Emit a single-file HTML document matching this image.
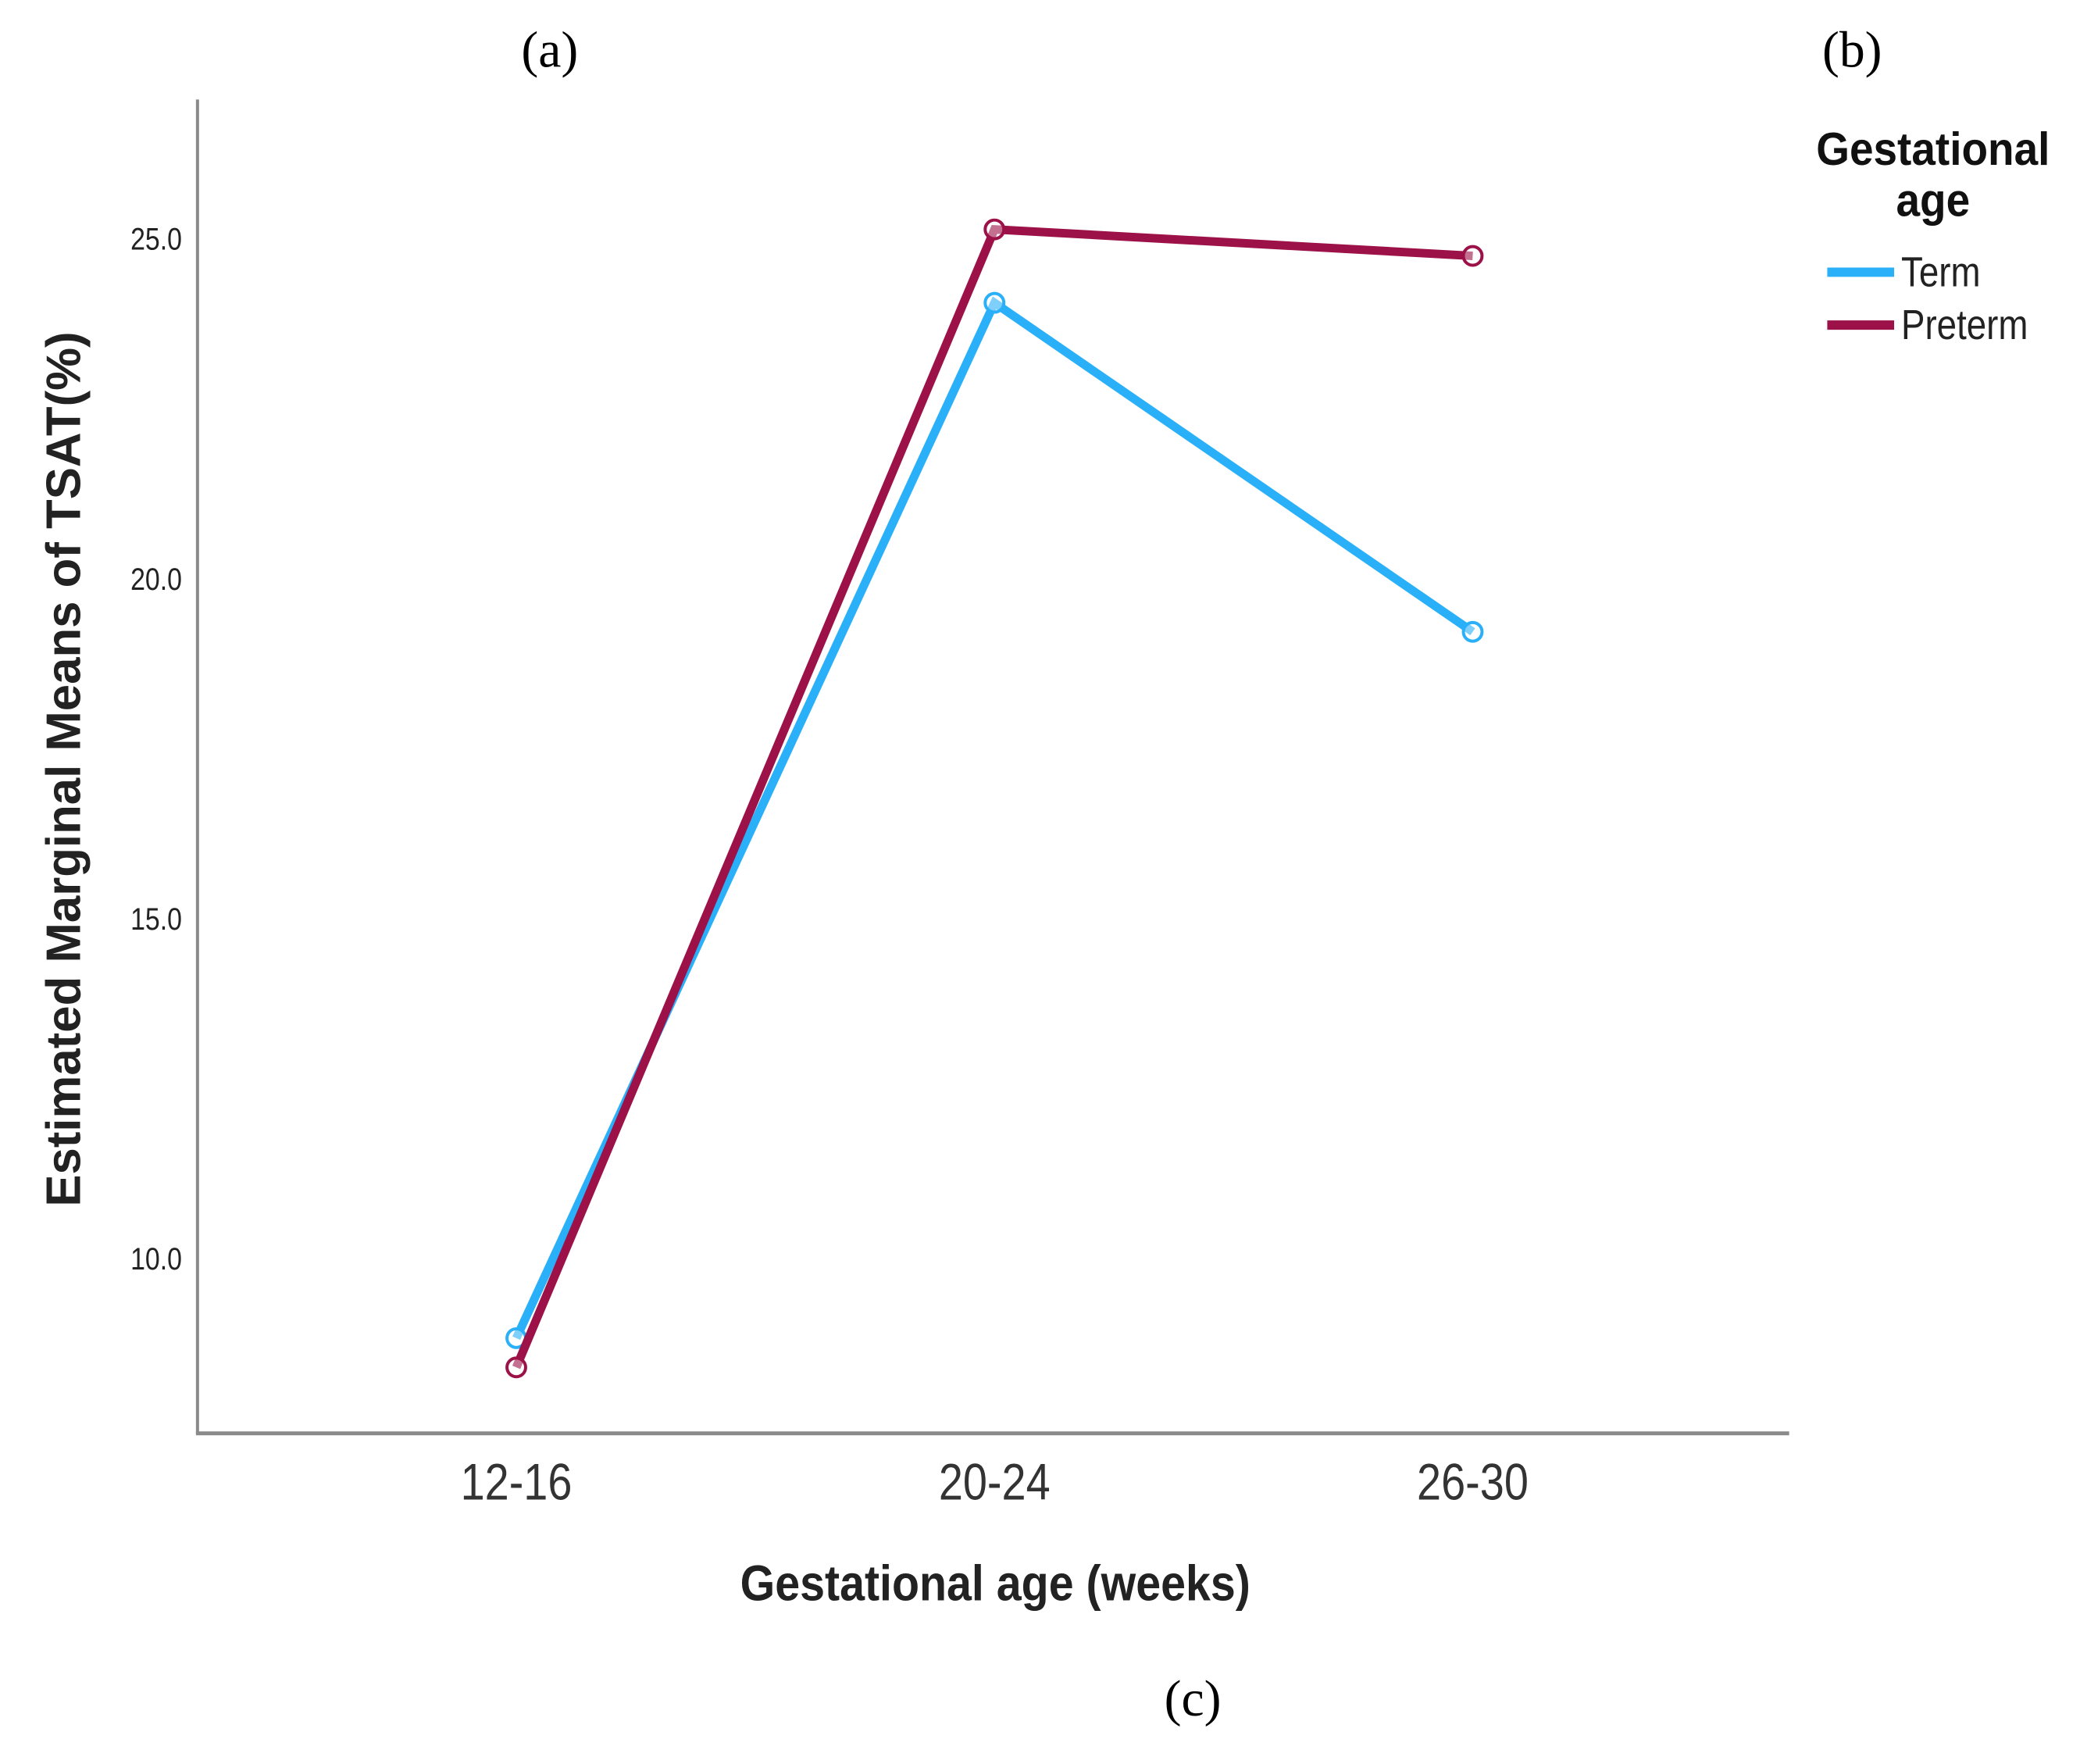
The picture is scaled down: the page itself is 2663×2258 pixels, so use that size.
<!DOCTYPE html>
<html><head><meta charset="utf-8"><style>
body{margin:0;background:#fff}
svg{display:block}
</style></head><body>
<svg width="2663" height="2258" viewBox="0 0 2663 2258" xmlns="http://www.w3.org/2000/svg">
<g id="plot" transform="scale(0.9955)"></g>
</svg>
<script>
const categories = ["12-16","20-24","26-30"];
const termValues = [8.83, 24.06, 19.22];
const pretermValues = [8.4, 25.14, 24.75];
const yTicks = [10, 15, 20, 25];
const yTickLabels = ["10.0","15.0","20.0","25.0"];

const NS = "http://www.w3.org/2000/svg";
const g = document.getElementById("plot");
const X0 = 254, X1 = 2301, YTOP = 128, YBOT = 1843;
const yMin = 7.43, yMax = 27.05;
const catX = [664, 1279, 1894];
function xScale(i){ return catX[0] + i * (catX[2]-catX[0])/(categories.length-1); }
function yScale(v){ return YBOT - (v - yMin) / (yMax - yMin) * (YBOT - YTOP); }
function el(tag, attrs, parent){ const e=document.createElementNS(NS,tag); for(const k in attrs) e.setAttribute(k,attrs[k]); (parent||g).appendChild(e); return e; }
function txt(s, attrs, parent){ const e=el("text",attrs,parent); e.textContent=s; return e; }

const ya = el("line",{x1:X0,y1:YTOP,x2:X0,y2:YBOT,stroke:"#8a8a8a","stroke-width":4});


const xa = el("line",{x1:X0-2,y1:YBOT,x2:X1,y2:YBOT,stroke:"#8a8a8a","stroke-width":5});



yTicks.forEach((v,i)=>{
  const t = txt(yTickLabels[i],{x:234/0.85,y:yScale(v)+14,"text-anchor":"end","font-family":"Liberation Sans, sans-serif","font-size":40,fill:"#222",transform:"scale(0.85,1)"});
  
  
});
categories.forEach((c,i)=>{
  const x = xScale(i);
  const t = txt(c,{x:x/0.85,y:1928,"text-anchor":"middle","font-family":"Liberation Sans, sans-serif","font-size":66,fill:"#333",transform:"scale(0.85,1)"});
  
  
});

function series(vals,color,name){
  const pts = vals.map((v,i)=>xScale(i)+","+yScale(v)).join(" ");
  const p = el("polyline",{points:pts,fill:"none",stroke:color,"stroke-width":11,"stroke-linejoin":"miter"});
  
  
  vals.forEach((v,i)=>{
    const c = el("circle",{cx:xScale(i),cy:yScale(v),r:12,fill:"#fff","fill-opacity":0.4,stroke:color,"stroke-width":4});
    
    
  });
}
series(termValues,"#2ab0f8","term");
series(pretermValues,"#9c1248","preterm");

const xt = txt("Gestational age (weeks)",{x:1280/0.9,y:2058,"text-anchor":"middle","font-family":"Liberation Sans, sans-serif","font-weight":"bold","font-size":64,fill:"#222",transform:"scale(0.9,1)"});


const yt = txt("Estimated Marginal Means of TSAT(%)",{x:0,y:0,"text-anchor":"middle","font-family":"Liberation Sans, sans-serif","font-weight":"bold","font-size":62,fill:"#222",transform:"translate(103,989) rotate(-90)"});



const lt1 = txt("Gestational",{x:2486/0.92,y:212,"text-anchor":"middle","font-family":"Liberation Sans, sans-serif","font-weight":"bold","font-size":60,fill:"#111",transform:"scale(0.92,1)"});


const lt2 = txt("age",{x:2486/0.92,y:278,"text-anchor":"middle","font-family":"Liberation Sans, sans-serif","font-weight":"bold","font-size":60,fill:"#111",transform:"scale(0.92,1)"});


[["Term","#2ab0f8",350],["Preterm","#9c1248",418]].forEach(([n,c,y])=>{
  const l = el("line",{x1:2350,y1:y,x2:2436,y2:y,stroke:c,"stroke-width":12});
  
  
  const t = txt(n,{x:2445/0.85,y:y+18,"font-family":"Liberation Sans, sans-serif","font-size":54,fill:"#222",transform:"scale(0.85,1)"});
  
  
});

[["(a)",707,86],["(b)",2382,86],["(c)",1534,2206]].forEach(([s,x,y])=>{
  const t = txt(s,{x:x,y:y,"text-anchor":"middle","font-family":"Liberation Serif, serif","font-size":66,fill:"#000"});
  
  
});
</script>
</body></html>
